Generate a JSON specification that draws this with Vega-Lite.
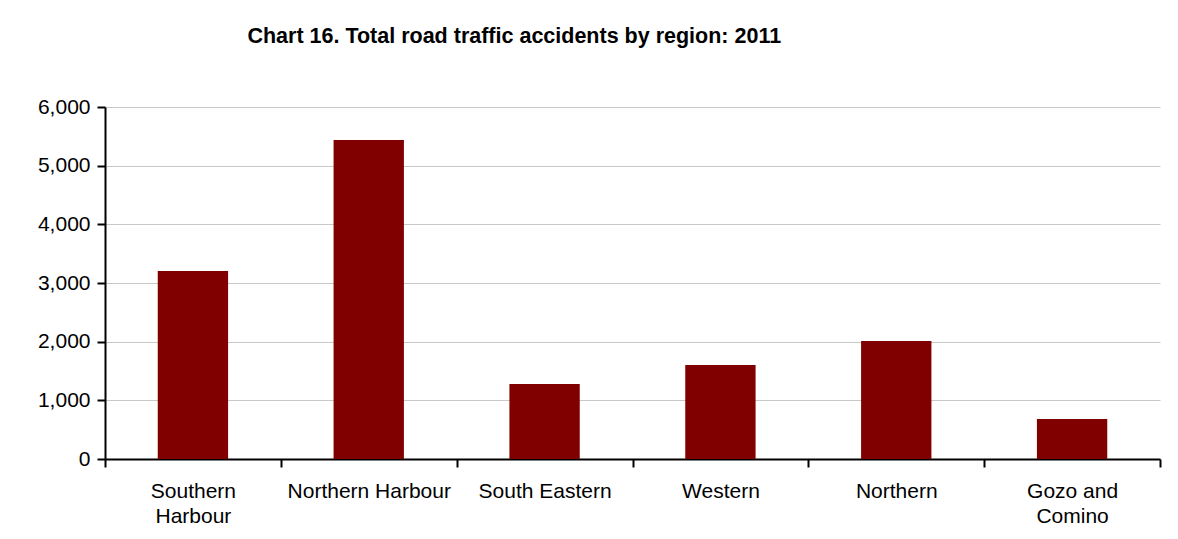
{
  "$schema": "https://vega.github.io/schema/vega-lite/v6.json",
  "autosize": {"type": "none"},
  "width": 1055,
  "height": 352,
  "padding": {"left": 105, "top": 107, "right": 18, "bottom": 80},
  "background": "white",
  "title": {
    "text": "Chart 16. Total road traffic accidents by region: 2011",
    "anchor": "start",
    "dx": 210,
    "offset": 49,
    "font": "Liberation Sans",
    "fontSize": 21.5,
    "fontWeight": "bold",
    "color": "#000000"
  },
  "data": {
    "values": [
      {"region": "Southern Harbour", "accidents": 3204},
      {"region": "Northern Harbour", "accidents": 5437},
      {"region": "South Eastern", "accidents": 1278},
      {"region": "Western", "accidents": 1602},
      {"region": "Northern", "accidents": 2011},
      {"region": "Gozo and Comino", "accidents": 682}
    ]
  },
  "mark": {"type": "bar", "color": "#800000", "width": {"band": 0.4}},
  "encoding": {
    "x": {
      "field": "region",
      "type": "nominal",
      "sort": null,
      "scale": {"paddingInner": 0, "paddingOuter": 0},
      "axis": {
        "title": null,
        "labelAngle": 0,
        "tickBand": "extent",
        "labelExpr": "datum.value == 'Southern Harbour' ? ['Southern', 'Harbour'] : datum.value == 'Gozo and Comino' ? ['Gozo and', 'Comino'] : datum.value",
        "labelLineHeight": 25,
        "labelPadding": 13,
        "tickSize": 8
      }
    },
    "y": {
      "field": "accidents",
      "type": "quantitative",
      "scale": {"domain": [0, 6000], "nice": false},
      "axis": {
        "title": null,
        "values": [0, 1000, 2000, 3000, 4000, 5000, 6000],
        "format": ",.0f",
        "labelPadding": 7,
        "tickSize": 8,
        "grid": true
      }
    }
  },
  "config": {
    "view": {"stroke": null},
    "axis": {
      "labelFont": "Liberation Sans",
      "labelFontSize": 21,
      "labelColor": "#000000",
      "domainColor": "#000000",
      "domainWidth": 2,
      "tickColor": "#000000",
      "tickWidth": 2,
      "gridColor": "#c8c8c8",
      "gridWidth": 1
    },
    "axisX": {"grid": false}
  }
}
